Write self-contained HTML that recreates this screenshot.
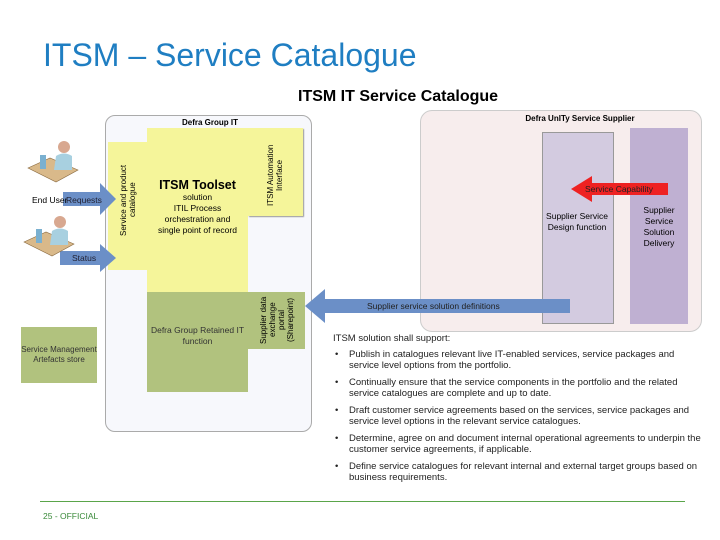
<!DOCTYPE html>
<html><head><meta charset="utf-8"><style>
body{margin:0;width:720px;height:540px;background:#fff;font-family:"Liberation Sans",sans-serif;position:relative;overflow:hidden}
.a{position:absolute}
.c{display:flex;align-items:center;justify-content:center;text-align:center}
.v{writing-mode:vertical-rl;transform:rotate(180deg)}
ul{margin:0;padding:0;list-style:none}
li{position:relative;padding-left:14px;margin-bottom:6px;line-height:11px}
li:before{content:"•";position:absolute;left:0}
.t{z-index:6}
</style></head><body>
<div class="a" style="left:43px;top:37px;font-size:32px;color:#1f7ec2">ITSM – Service Catalogue</div>
<div class="a" style="left:298px;top:88px;font-size:16px;font-weight:bold">ITSM IT Service Catalogue</div>

<div class="a" style="left:105px;top:115px;width:205px;height:315px;background:#f7f8fc;border:1px solid #aaa;border-radius:10px"></div>
<div class="a" style="left:120px;top:118px;width:180px;text-align:center;font-size:8px;font-weight:bold">Defra Group IT</div>
<div class="a" style="left:108px;top:142px;width:39px;height:128px;background:#f5f59a"></div>
<div class="a" style="left:147px;top:128px;width:101px;height:164px;background:#f5f59a"></div>
<div class="a" style="left:248px;top:128px;width:55px;height:88px;background:#f5f59a;box-shadow:1px 1px 1px #999"></div>
<div class="a c v" style="left:112px;top:160px;width:32px;height:80px;font-size:8px">Service and product catalogue</div>
<div class="a c v" style="left:255px;top:140px;width:40px;height:70px;font-size:8px">ITSM Automation Interface</div>
<div class="a" style="left:147px;top:180px;width:101px;text-align:center;font-size:8.5px;line-height:11px"><b style="font-size:12.5px">ITSM Toolset</b><br>solution<br>ITIL Process<br>orchestration and<br>single point of record</div>
<div class="a" style="left:147px;top:292px;width:101px;height:100px;background:#b1c27e"></div>
<div class="a" style="left:248px;top:292px;width:57px;height:57px;background:#b1c27e"></div>
<div class="a c" style="left:147px;top:325px;width:101px;font-size:8.5px;line-height:11px;color:#333">Defra Group Retained IT function</div>
<div class="a c v" style="left:250px;top:294px;width:54px;height:52px;font-size:8px;line-height:9px">Supplier data exchange portal (Sharepoint)</div>
<div class="a c" style="left:21px;top:327px;width:76px;height:56px;background:#b1c27e;font-size:8px;line-height:10px;color:#333">Service Management Artefacts store</div>

<div class="a" style="left:420px;top:110px;width:280px;height:220px;background:#f7eded;border:1px solid #ccc;border-radius:12px"></div>
<div class="a" style="left:420px;top:114px;width:280px;text-align:center;font-size:8px;font-weight:bold;padding-left:40px;box-sizing:border-box">Defra UnITy Service Supplier</div>
<div class="a" style="left:542px;top:132px;width:70px;height:190px;background:#d3cbe0;border:1px solid #999"></div>
<div class="a" style="left:630px;top:128px;width:58px;height:196px;background:#bfb0d2"></div>
<div class="a" style="left:542px;top:211px;width:70px;text-align:center;font-size:8.5px;line-height:11px">Supplier Service Design function</div>
<div class="a" style="left:630px;top:205px;width:58px;text-align:center;font-size:8.5px;line-height:11px">Supplier Service Solution Delivery</div>

<svg class="a" style="left:0;top:0;z-index:5" width="720" height="540">
<g fill="#6b8fc7">
<polygon points="63,192 100,192 100,183 116,199 100,215 100,206 63,206"/>
<polygon points="60,251 100,251 100,244 116,258 100,272 100,265 60,265"/>
<polygon points="570,299 325,299 325,289 305,306 325,323 325,313 570,313"/>
</g>
<polygon fill="#ee2222" points="668,183 592,183 592,176 571,189 592,202 592,195 668,195"/>
<g>
<polygon fill="#d9b98a" stroke="#8a6a40" stroke-width="0.6" points="28,168 50,158 78,170 56,182"/>
<polygon fill="#d9b98a" stroke="#8a6a40" stroke-width="0.6" points="24,242 46,232 74,244 52,256"/>
<rect x="40" y="155" width="6" height="14" fill="#7ab0d0"/>
<rect x="36" y="229" width="6" height="14" fill="#7ab0d0"/>
<circle cx="64" cy="147" r="6" fill="#d8a890"/>
<circle cx="60" cy="222" r="6" fill="#d8a890"/>
<path d="M54,170 L56,156 Q64,151 72,156 L72,170 Z" fill="#a8d0e0"/>
<path d="M50,245 L52,231 Q60,226 68,231 L68,245 Z" fill="#a8d0e0"/>
</g>
</svg>
<div class="a t" style="left:32px;top:195px;font-size:8.5px">End User</div>
<div class="a t" style="left:66px;top:195px;font-size:8.5px;color:#223">Requests</div>
<div class="a t" style="left:72px;top:253px;font-size:8.5px;color:#223">Status</div>
<div class="a t" style="left:585px;top:184px;font-size:8.5px;color:#222">Service Capability</div>
<div class="a t" style="left:367px;top:301px;font-size:8.5px;color:#222">Supplier service solution definitions</div>

<div class="a" style="left:333px;top:333px;width:372px;font-size:9.5px;color:#222">
<div style="margin-bottom:5px">ITSM solution shall support:</div>
<ul style="padding-left:2px">
<li>Publish in catalogues relevant live IT-enabled services, service packages and service level options from the portfolio.</li>
<li>Continually ensure that the service components in the portfolio and the related service catalogues are complete and up to date.</li>
<li>Draft customer service agreements based on the services, service packages and service level options in the relevant service catalogues.</li>
<li>Determine, agree on and document internal operational agreements to underpin the customer service agreements, if applicable.</li>
<li>Define service catalogues for relevant internal and external target groups based on business requirements.</li>
</ul></div>
<div class="a" style="left:40px;top:501px;width:645px;height:1px;background:#5aa54a"></div>
<div class="a" style="left:43px;top:511px;font-size:8.5px;color:#3a8a3a">25 - OFFICIAL</div>
</body></html>
